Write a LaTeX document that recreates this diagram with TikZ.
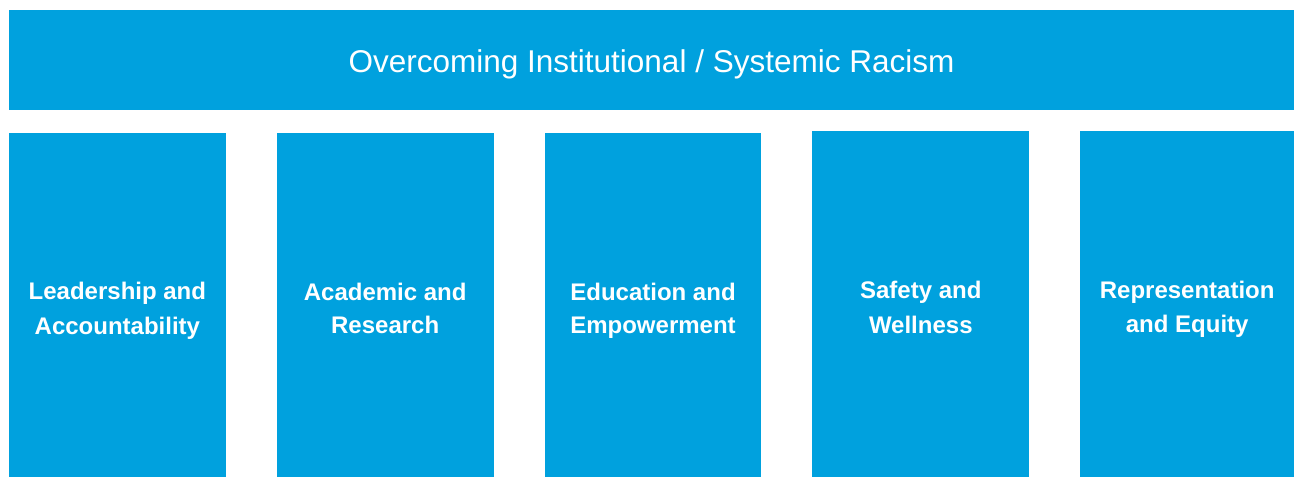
\documentclass[tikz,border=0pt]{standalone}
\usepackage{fontspec}
\setmainfont{Liberation Sans}
\usepackage{tikz}
\usetikzlibrary{positioning}
\definecolor{pillarblue}{RGB}{0,161,222}
\newcommand\pillarstrut{\rule[-4.5pt]{0pt}{33pt}}

\begin{document}
\begin{tikzpicture}[x=1pt,y=1pt,node distance=51pt,
    roof/.style={fill=pillarblue,text=white,inner sep=0pt,outer sep=0pt,
                 minimum width=1285pt,minimum height=100pt,
                 text height=24.6pt,text depth=0pt,
                 font=\fontsize{31.5}{38}\selectfont},
    pillar/.style={fill=pillarblue,text=white,inner sep=0pt,outer sep=0pt,
                   minimum width=216.8pt,minimum height=343.7pt,align=center,
                   font=\bfseries\fontsize{24}{33}\selectfont}]
    \useasboundingbox (0,0) rectangle (1294,477);
    \node[roof] (racism) at (651.5,416.5) {Overcoming Institutional / Systemic Racism};
    \node[pillar] (lead) at (117.4,171.85) {Leadership and\pillarstrut\\Accountability\pillarstrut};
    \node[pillar] (acad) [right=of lead] {Academic and\pillarstrut\\Research\pillarstrut};
    \node[pillar] (educ) [right=of acad] {Education and\pillarstrut\\Empowerment\pillarstrut};
    \node[pillar, minimum height=346.3pt, yshift=1.3pt] (safe) [right=of educ] {Safety and\pillarstrut\\Wellness\pillarstrut};
    \node[pillar, minimum height=346.3pt, minimum width=214pt] (repr) [right=of safe] {Representation\pillarstrut\\and Equity\pillarstrut};
\end{tikzpicture}
\end{document}
